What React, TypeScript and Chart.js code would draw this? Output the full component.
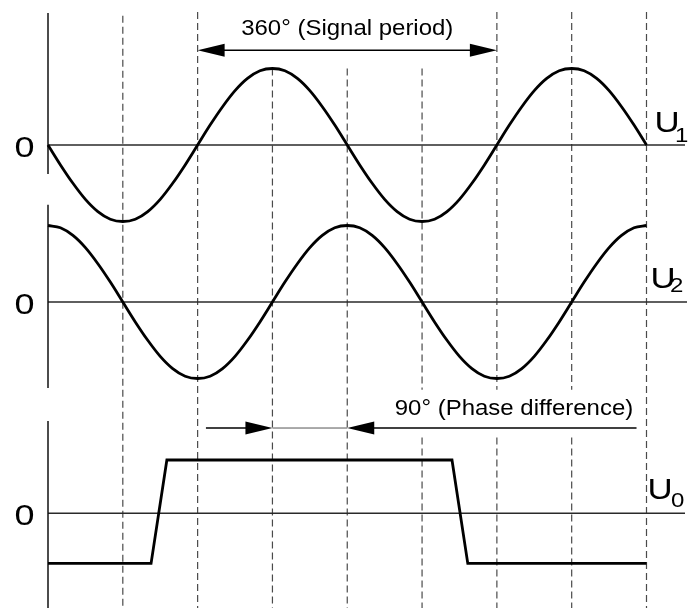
import React, { useEffect, useRef } from "react";
import { Chart, registerables } from "chart.js";

Chart.register(...registerables);

// ---- data (phase angle in degrees) ----
const angles = [
  0, 15, 30, 45, 60, 75, 90, 105, 120, 135, 150, 165, 180, 195, 210, 225, 240, 255, 270, 285, 300, 315, 330, 345,
  360, 375, 390, 405, 420, 435, 450, 465, 480, 495, 510, 525, 540, 555, 570, 585, 600, 615, 630, 645, 660, 675,
  690, 705, 720,
];
const u1Values = [
  0, -0.26, -0.5, -0.71, -0.87, -0.97, -1, -0.97, -0.87, -0.71, -0.5, -0.26, 0, 0.26, 0.5, 0.71, 0.87, 0.97, 1,
  0.97, 0.87, 0.71, 0.5, 0.26, 0, -0.26, -0.5, -0.71, -0.87, -0.97, -1, -0.97, -0.87, -0.71, -0.5, -0.26, 0, 0.26,
  0.5, 0.71, 0.87, 0.97, 1, 0.97, 0.87, 0.71, 0.5, 0.26, 0,
];
const u2Values = [
  1, 0.97, 0.87, 0.71, 0.5, 0.26, 0, -0.26, -0.5, -0.71, -0.87, -0.97, -1, -0.97, -0.87, -0.71, -0.5, -0.26, 0,
  0.26, 0.5, 0.71, 0.87, 0.97, 1, 0.97, 0.87, 0.71, 0.5, 0.26, 0, -0.26, -0.5, -0.71, -0.87, -0.97, -1, -0.97,
  -0.87, -0.71, -0.5, -0.26, 0, 0.26, 0.5, 0.71, 0.87, 0.97, 1,
];
const u0Angles = [0, 124, 143, 486, 505, 720];
const u0Values = [-0.94, -0.94, 1, 1, -0.94, -0.94];

const guideAngles = [90, 180, 270, 360, 450, 540, 630, 720];
const periodRange = [180, 540];
const phaseRange = [270, 360];
const periodLabel = "360° (Signal period)";
const phaseLabel = "90° (Phase difference)";
const zeroTick = "0";
const seriesLetter = "U";
const seriesSubs = ["1", "2", "0"];

// ---- layout ----
const W = 688;
const H = 608;
const PLOT_LEFT = 48;
const PLOT_RIGHT = 646.5;

function rangeFor(zeroPx: number, unitPx: number) {
  return { min: -(H - zeroPx) / unitPx, max: zeroPx / unitPx };
}

const FONT = '"Liberation Sans", Arial, Helvetica, sans-serif';

function drawText(
  ctx: CanvasRenderingContext2D,
  text: string,
  x: number,
  y: number,
  size: number,
  align: CanvasTextAlign,
  sx: number
) {
  ctx.save();
  ctx.translate(x, y);
  ctx.scale(sx, 1);
  ctx.font = `${size}px ${FONT}`;
  ctx.textAlign = align;
  ctx.textBaseline = "alphabetic";
  ctx.fillStyle = "#000";
  ctx.fillText(text, 0, 0);
  ctx.restore();
}

function arrowHead(ctx: CanvasRenderingContext2D, tipX: number, y: number, dir: number) {
  const len = 27;
  const half = 6.5;
  ctx.beginPath();
  ctx.moveTo(tipX, y);
  ctx.lineTo(tipX - dir * len, y - half);
  ctx.lineTo(tipX - dir * len, y + half);
  ctx.closePath();
  ctx.fillStyle = "#000";
  ctx.fill();
}

const decor = {
  id: "decor",
  beforeDatasetsDraw(chart: any) {
    const ctx: CanvasRenderingContext2D = chart.ctx;
    const xs = chart.scales.x;
    const y1 = chart.scales.y1;
    const y2 = chart.scales.y2;
    const y0 = chart.scales.y0;
    const bottom = chart.height;
    ctx.save();

    // dashed guides
    ctx.setLineDash([7, 4]);
    ctx.strokeStyle = "#4a4a4a";
    ctx.lineWidth = 1.2;
    const gapTop = y0.getPixelForValue(2.32);
    const gapBottom = y0.getPixelForValue(1.42);
    guideAngles.forEach((a) => {
      const x = xs.getPixelForValue(a);
      let top: number;
      if (a === 90) top = y1.getPixelForValue(1.69);
      else if (a >= 270 && a <= 450) top = y1.getPixelForValue(1);
      else top = y1.getPixelForValue(1.74);
      const gap = a >= 450 && a <= 630;
      ctx.beginPath();
      if (gap) {
        ctx.moveTo(x, top);
        ctx.lineTo(x, gapTop);
        ctx.moveTo(x, gapBottom);
        ctx.lineTo(x, bottom);
      } else {
        ctx.moveTo(x, top);
        ctx.lineTo(x, bottom);
      }
      ctx.stroke();
    });
    ctx.setLineDash([]);

    // zero lines
    ctx.strokeStyle = "#2a2a2a";
    ctx.lineWidth = 1.5;
    const left = xs.getPixelForValue(0);
    [
      [y1, W - 3],
      [y2, W - 1],
      [y0, W - 3],
    ].forEach(([sc, right]: any) => {
      const y = sc.getPixelForValue(0);
      ctx.beginPath();
      ctx.moveTo(left, y);
      ctx.lineTo(right, y);
      ctx.stroke();
    });

    // left axis segments
    ctx.strokeStyle = "#111";
    ctx.lineWidth = 1.5;
    const segs: Array<[number, number]> = [
      [y1.getPixelForValue(1.725), y1.getPixelForValue(-0.38)],
      [y2.getPixelForValue(1.27), y2.getPixelForValue(-1.125)],
      [y0.getPixelForValue(1.73), bottom],
    ];
    segs.forEach(([a, b]) => {
      ctx.beginPath();
      ctx.moveTo(left, a);
      ctx.lineTo(left, b);
      ctx.stroke();
    });
    ctx.restore();
  },
  afterDatasetsDraw(chart: any) {
    const ctx: CanvasRenderingContext2D = chart.ctx;
    const xs = chart.scales.x;
    const y1 = chart.scales.y1;
    const y2 = chart.scales.y2;
    const y0 = chart.scales.y0;
    ctx.save();

    // period arrow
    const py = y1.getPixelForValue(1.24);
    const pa = xs.getPixelForValue(periodRange[0]);
    const pb = xs.getPixelForValue(periodRange[1]);
    ctx.strokeStyle = "#000";
    ctx.lineWidth = 1.5;
    ctx.beginPath();
    ctx.moveTo(pa + 10, py);
    ctx.lineTo(pb - 10, py);
    ctx.stroke();
    arrowHead(ctx, pa, py, -1);
    arrowHead(ctx, pb, py, 1);
    drawText(ctx, periodLabel, xs.getPixelForValue(360), py - 15, 22, "center", 1.09);

    // phase arrows
    const qy = y0.getPixelForValue(1.6);
    const qa = xs.getPixelForValue(phaseRange[0]);
    const qb = xs.getPixelForValue(phaseRange[1]);
    ctx.lineWidth = 1.3;
    ctx.strokeStyle = "#000";
    ctx.beginPath();
    ctx.moveTo(xs.getPixelForValue(190), qy);
    ctx.lineTo(qa - 10, qy);
    ctx.stroke();
    ctx.beginPath();
    ctx.moveTo(qb + 10, qy);
    ctx.lineTo(xs.getPixelForValue(708), qy);
    ctx.stroke();
    ctx.strokeStyle = "#555";
    ctx.lineWidth = 1;
    ctx.beginPath();
    ctx.moveTo(qa, qy);
    ctx.lineTo(qb, qy);
    ctx.stroke();
    arrowHead(ctx, qa, qy, 1);
    arrowHead(ctx, qb, qy, -1);
    drawText(ctx, phaseLabel, xs.getPixelForValue(704), qy - 13, 22, "right", 1.09);

    // zero tick labels
    [y1, y2, y0].forEach((sc: any) => {
      drawText(ctx, zeroTick, 34.5, sc.getPixelForValue(0) + 11.5, 30, "right", 1.2);
    });

    // series labels
    const cfg = [
      { sc: y1, ux: 654.5, sx: 675, uDy: -13.4, sDy: -3.3 },
      { sc: y2, ux: 650.5, sx: 670, uDy: -13.7, sDy: -10 },
      { sc: y0, ux: 647.5, sx: 671, uDy: -14, sDy: -6.3 },
    ];
    cfg.forEach((c, i) => {
      const z = c.sc.getPixelForValue(0);
      drawText(ctx, seriesLetter, c.ux, z + c.uDy, 29, "left", 1.2);
      drawText(ctx, seriesSubs[i], c.sx, z + c.sDy, 20, "left", 1.2);
    });
    ctx.restore();
  },
};

export default function App() {
  const ref = useRef<HTMLCanvasElement | null>(null);
  useEffect(() => {
    if (!ref.current) return;
    const lineStyle = {
      borderColor: "#000",
      borderWidth: 2.8,
      pointRadius: 0,
      fill: false,
      clip: false as any,
    };
    const chart = new Chart(ref.current, {
      type: "line",
      data: {
        datasets: [
          {
            ...lineStyle,
            label: "U1",
            yAxisID: "y1",
            cubicInterpolationMode: "monotone",
            data: angles.map((a, i) => ({ x: a, y: u1Values[i] })),
          },
          {
            ...lineStyle,
            label: "U2",
            yAxisID: "y2",
            cubicInterpolationMode: "monotone",
            data: angles.map((a, i) => ({ x: a, y: u2Values[i] })),
          },
          {
            ...lineStyle,
            label: "U0",
            yAxisID: "y0",
            tension: 0,
            borderJoinStyle: "miter",
            data: u0Angles.map((a, i) => ({ x: a, y: u0Values[i] })),
          },
        ],
      } as any,
      options: {
        responsive: false,
        animation: false,
        events: [],
        layout: { padding: { left: PLOT_LEFT, right: W - PLOT_RIGHT, top: 0, bottom: 0 } },
        plugins: { legend: { display: false }, tooltip: { enabled: false } },
        scales: {
          x: { type: "linear", min: 0, max: 720, display: false },
          y1: { type: "linear", display: false, ...rangeFor(145, 76.5) },
          y2: { type: "linear", display: false, ...rangeFor(302, 76.5) },
          y0: { type: "linear", display: false, ...rangeFor(513.3, 53.3) },
        },
      } as any,
      plugins: [decor],
    });
    return () => chart.destroy();
  }, []);
  return (
    <div style={{ position: "absolute", left: 0, top: 0, width: W, height: H, background: "#fff" }}>
      <canvas ref={ref} width={W} height={H} style={{ width: W, height: H, display: "block" }} />
    </div>
  );
}
